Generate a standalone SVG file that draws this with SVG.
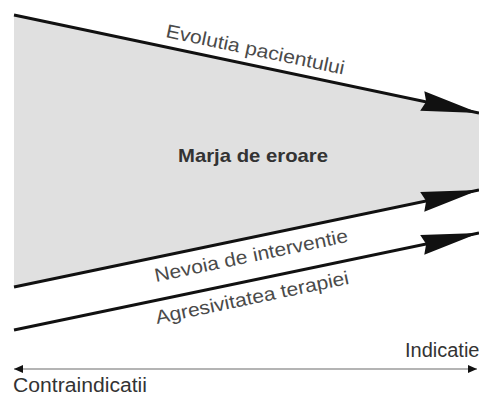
<svg xmlns="http://www.w3.org/2000/svg" width="479" height="398" viewBox="0 0 479 398">
  <defs>
    <marker id="bigArrow" markerUnits="userSpaceOnUse" markerWidth="58" markerHeight="20" refX="58" refY="10" orient="auto" overflow="visible">
      <path d="M0,0 L58,10 L0,20 L4,10 z" fill="#111"/>
    </marker>
    <marker id="smallArrow" markerUnits="userSpaceOnUse" markerWidth="9" markerHeight="8" refX="9" refY="4" orient="auto-start-reverse" overflow="visible">
      <path d="M0,0 L9,4 L0,8 z" fill="#111"/>
    </marker>
  </defs>
  <style>
    .main { stroke: #111; stroke-width: 3; fill: none; marker-end: url(#bigArrow); }
    .axis { stroke: #b4b4b4; stroke-width: 2; fill: none; marker-start: url(#smallArrow); marker-end: url(#smallArrow); }
    .lbl { font-family: "Liberation Sans", Arial, sans-serif; font-size: 19px; fill: #4a4a4a; }
    .ax { font-family: "Liberation Sans", Arial, sans-serif; font-size: 20px; fill: #333; }
    .title { font-family: "Liberation Sans", Arial, sans-serif; font-size: 19px; font-weight: bold; fill: #333; }
  </style>
  <rect width="479" height="398" fill="#fff"/>
  <g id="margin-region">
    <polygon points="14,15 479,113 479,190 14,287" fill="#e0e0e0"/>
    <text class="title" x="178" y="162" textLength="150" lengthAdjust="spacingAndGlyphs">Marja de eroare</text>
  </g>
  <g id="connectors">
    <line class="main" x1="14" y1="15" x2="479" y2="113"/>
    <line class="main" x1="14" y1="287" x2="479" y2="190"/>
    <line class="main" x1="14" y1="330" x2="479" y2="233"/>
    <line class="axis" x1="14" y1="369" x2="477" y2="369"/>
  </g>
  <g id="label-evolutia">
    <text class="lbl" x="165" y="37" transform="rotate(11.9 165 37)" textLength="182" lengthAdjust="spacingAndGlyphs">Evolutia pacientului</text>
  </g>
  <g id="label-nevoia">
    <text class="lbl" x="156" y="282" transform="rotate(-11.8 156 282)" textLength="197" lengthAdjust="spacingAndGlyphs">Nevoia de interventie</text>
  </g>
  <g id="label-agresivitatea">
    <text class="lbl" x="157" y="324" transform="rotate(-11.8 157 324)" textLength="197" lengthAdjust="spacingAndGlyphs">Agresivitatea terapiei</text>
  </g>
  <g id="label-indicatie">
    <text class="ax" x="405" y="357">Indicatie</text>
  </g>
  <g id="label-contraindicatii">
    <text class="ax" x="13" y="392" textLength="134" lengthAdjust="spacingAndGlyphs">Contraindicatii</text>
  </g>
</svg>
